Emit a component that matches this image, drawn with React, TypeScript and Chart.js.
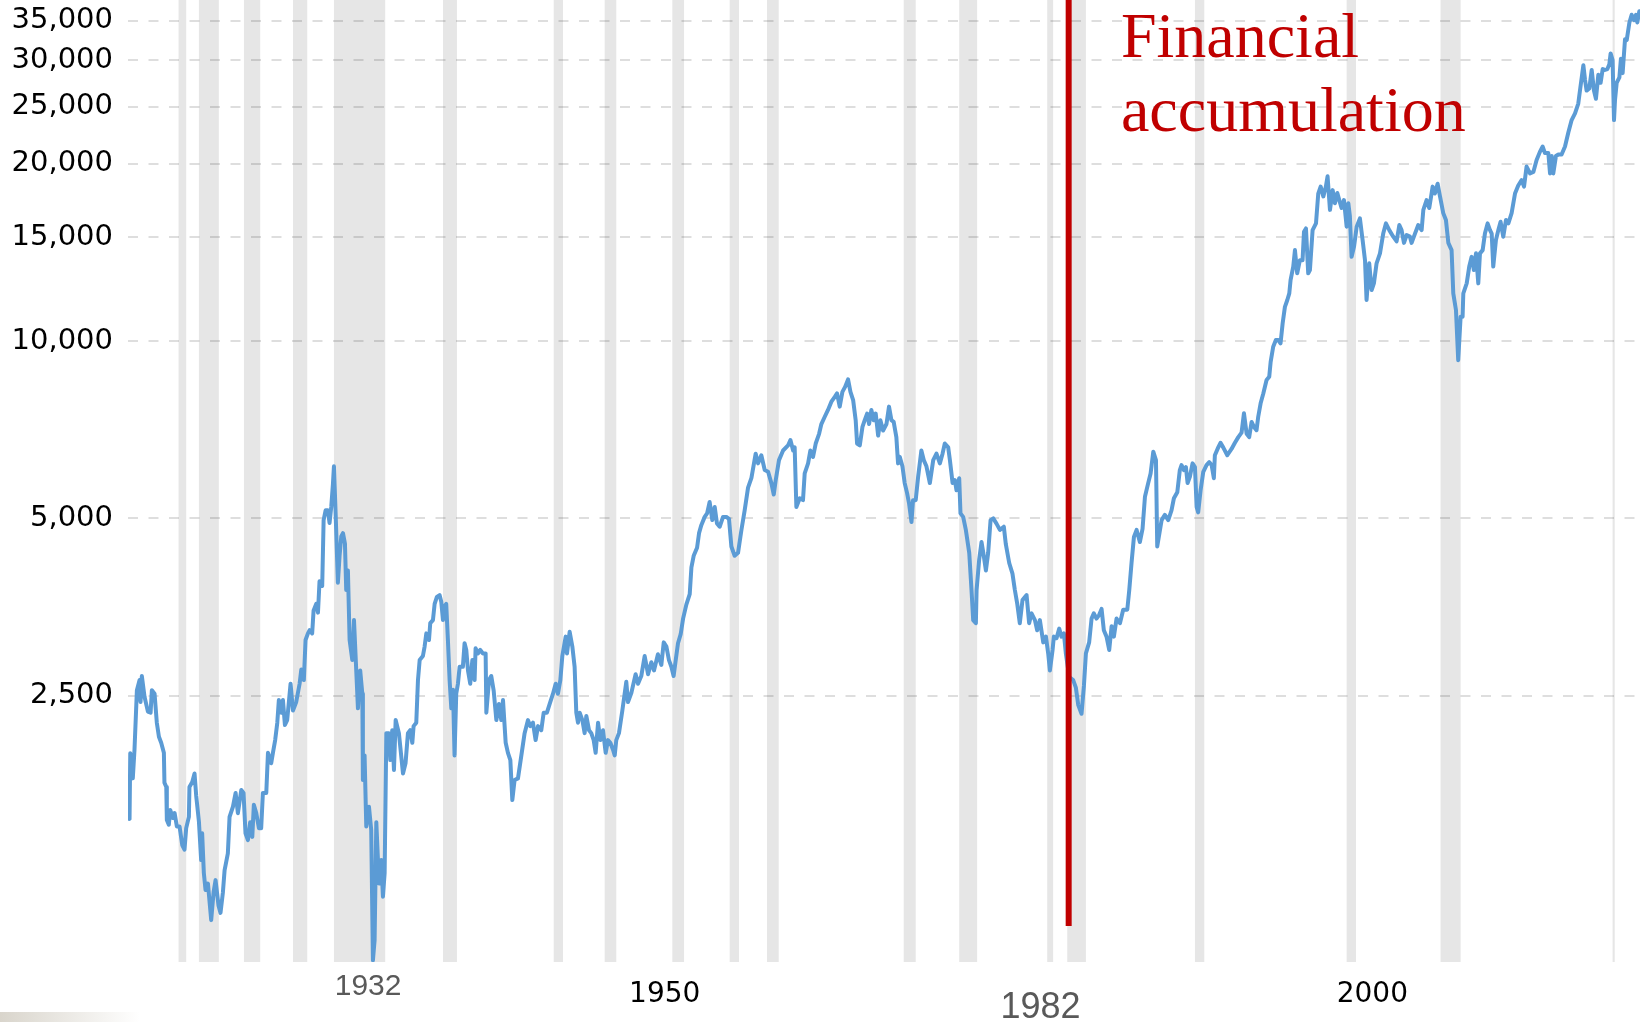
import React, { useEffect, useRef } from 'react';
import { Chart, registerables } from 'chart.js';

Chart.register(...registerables);

// ---- data (inflation-adjusted index level by decimal year) ----
const years = [
  1915.0, 1915.11, 1915.16, 1915.34, 1915.46, 1915.63, 1915.82, 1915.89, 1915.98, 1916.17,
  1916.41, 1916.6, 1916.69, 1916.88, 1917.04, 1917.19, 1917.35, 1917.54, 1917.58, 1917.71,
  1917.75, 1917.89, 1917.99, 1918.18, 1918.3, 1918.46, 1918.65, 1918.84, 1919.0, 1919.12,
  1919.31, 1919.35, 1919.55, 1919.71, 1919.83, 1920.02, 1920.07, 1920.18, 1920.25, 1920.37,
  1920.49, 1920.66, 1920.89, 1921.06, 1921.2, 1921.41, 1921.55, 1921.72, 1921.84, 1922.07,
  1922.19, 1922.43, 1922.62, 1922.78, 1923.02, 1923.18, 1923.32, 1923.49, 1923.65, 1923.8,
  1923.91, 1924.08, 1924.27, 1924.43, 1924.55, 1924.79, 1924.91, 1925.14, 1925.26, 1925.42,
  1925.57, 1925.68, 1925.85, 1925.97, 1926.11, 1926.27, 1926.51, 1926.68, 1926.91, 1927.15,
  1927.27, 1927.45, 1927.57, 1927.74, 1927.86, 1928.04, 1928.14, 1928.33, 1928.45, 1928.56,
  1928.75, 1928.85, 1928.99, 1929.15, 1929.27, 1929.39, 1929.51, 1929.58, 1929.7, 1929.86,
  1929.98, 1930.1, 1930.22, 1930.36, 1930.45, 1930.57, 1930.69, 1930.88, 1931.0, 1931.28,
  1931.44, 1931.59, 1931.63, 1931.75, 1931.87, 1932.06, 1932.22, 1932.34, 1932.46, 1932.58,
  1932.77, 1932.93, 1933.05, 1933.17, 1933.29, 1933.47, 1933.57, 1933.71, 1933.83, 1933.95,
  1934.18, 1934.47, 1934.65, 1934.82, 1934.98, 1935.13, 1935.22, 1935.41, 1935.53, 1935.65,
  1935.88, 1936.0, 1936.12, 1936.31, 1936.4, 1936.59, 1936.71, 1936.87, 1937.06, 1937.18,
  1937.3, 1937.42, 1937.53, 1937.65, 1937.77, 1937.89, 1938.01, 1938.12, 1938.24, 1938.36,
  1938.48, 1938.71, 1938.83, 1938.95, 1939.07, 1939.23, 1939.38, 1939.54, 1939.61, 1939.78,
  1939.94, 1940.13, 1940.32, 1940.37, 1940.56, 1940.72, 1940.89, 1941.08, 1941.26, 1941.43,
  1941.55, 1941.74, 1941.9, 1942.07, 1942.21, 1942.37, 1942.61, 1942.85, 1943.08, 1943.32,
  1943.48, 1943.67, 1943.86, 1944.03, 1944.26, 1944.43, 1944.66, 1944.85, 1945.09, 1945.28,
  1945.44, 1945.61, 1945.75, 1945.99, 1946.08, 1946.27, 1946.46, 1946.62, 1946.74, 1946.86,
  1946.98, 1947.17, 1947.33, 1947.45, 1947.64, 1947.8, 1947.97, 1948.11, 1948.28, 1948.44,
  1948.63, 1948.82, 1948.98, 1949.15, 1949.34, 1949.46, 1949.57, 1949.76, 1950.0, 1950.28,
  1950.4, 1950.64, 1950.94, 1951.11, 1951.34, 1951.58, 1951.82, 1952.05, 1952.24, 1952.52,
  1952.76, 1952.93, 1953.12, 1953.3, 1953.47, 1953.63, 1953.78, 1953.94, 1954.13, 1954.3,
  1954.53, 1954.77, 1954.89, 1955.05, 1955.29, 1955.43, 1955.59, 1955.83, 1956.0, 1956.18,
  1956.37, 1956.54, 1956.7, 1956.89, 1957.13, 1957.36, 1957.55, 1957.72, 1957.95, 1958.19,
  1958.43, 1958.66, 1958.9, 1959.14, 1959.44, 1959.61, 1959.84, 1960.08, 1960.32, 1960.55,
  1960.72, 1960.86, 1961.09, 1961.38, 1961.73, 1961.9, 1962.09, 1962.2, 1962.32, 1962.56,
  1962.79, 1962.91, 1963.15, 1963.31, 1963.5, 1963.69, 1963.93, 1964.09, 1964.33, 1964.56,
  1964.8, 1965.04, 1965.2, 1965.39, 1965.58, 1965.77, 1965.98, 1966.15, 1966.34, 1966.52,
  1966.62, 1966.81, 1967.0, 1967.16, 1967.33, 1967.47, 1967.63, 1967.8, 1967.94, 1968.11,
  1968.27, 1968.46, 1968.7, 1968.88, 1969.05, 1969.21, 1969.4, 1969.52, 1969.64, 1969.83,
  1969.99, 1970.16, 1970.3, 1970.47, 1970.58, 1970.77, 1970.94, 1971.17, 1971.34, 1971.53,
  1971.77, 1972.01, 1972.24, 1972.48, 1972.67, 1972.83, 1973.07, 1973.19, 1973.38, 1973.54,
  1973.66, 1973.85, 1973.94, 1974.13, 1974.32, 1974.56, 1974.72, 1974.84, 1975.03, 1975.08,
  1975.26, 1975.43, 1975.59, 1975.74, 1975.9, 1976.07, 1976.26, 1976.49, 1976.73, 1977.01,
  1977.15, 1977.39, 1977.62, 1977.79, 1977.96, 1978.14, 1978.33, 1978.62, 1978.8, 1978.97,
  1979.21, 1979.37, 1979.56, 1979.8, 1979.99, 1980.15, 1980.27, 1980.46, 1980.55, 1980.74,
  1980.93, 1981.09, 1981.26, 1981.4, 1981.64, 1981.92, 1982.11, 1982.28, 1982.51, 1982.68,
  1982.82, 1983.05, 1983.22, 1983.38, 1983.57, 1983.76, 1983.93, 1984.09, 1984.28, 1984.47,
  1984.64, 1984.8, 1984.99, 1985.23, 1985.46, 1985.75, 1985.89, 1986.05, 1986.22, 1986.41,
  1986.64, 1986.83, 1987.0, 1987.23, 1987.4, 1987.59, 1987.78, 1987.87, 1988.18, 1988.41,
  1988.65, 1988.88, 1989.05, 1989.29, 1989.47, 1989.59, 1989.76, 1989.9, 1990.02, 1990.18,
  1990.37, 1990.54, 1990.66, 1990.77, 1990.94, 1991.13, 1991.36, 1991.55, 1991.72, 1991.88,
  1991.95, 1992.19, 1992.35, 1992.54, 1992.83, 1993.13, 1993.37, 1993.61, 1993.84, 1994.01,
  1994.2, 1994.38, 1994.55, 1994.72, 1994.9, 1995.02, 1995.19, 1995.38, 1995.61, 1995.8,
  1995.9, 1996.08, 1996.27, 1996.44, 1996.6, 1996.75, 1996.91, 1997.08, 1997.22, 1997.31,
  1997.5, 1997.62, 1997.78, 1997.97, 1998.16, 1998.26, 1998.4, 1998.56, 1998.68, 1998.87,
  1999.11, 1999.27, 1999.44, 1999.63, 1999.81, 1999.93, 2000.1, 2000.29, 2000.45, 2000.62,
  2000.76, 2000.92, 2001.09, 2001.28, 2001.4, 2001.51, 2001.63, 2001.8, 2001.99, 2002.22,
  2002.41, 2002.58, 2002.69, 2002.88, 2003.05, 2003.21, 2003.4, 2003.64, 2003.87, 2004.06,
  2004.3, 2004.58, 2004.82, 2005.01, 2005.17, 2005.34, 2005.53, 2005.76, 2005.88, 2006.12,
  2006.35, 2006.59, 2006.71, 2006.94, 2007.13, 2007.37, 2007.53, 2007.72, 2007.89, 2008.12,
  2008.31, 2008.48, 2008.71, 2008.83, 2009.02, 2009.18, 2009.35, 2009.49, 2009.54, 2009.78,
  2009.96, 2010.13, 2010.29, 2010.44, 2010.6, 2010.72, 2010.91, 2011.07, 2011.26, 2011.43,
  2011.55, 2011.66, 2011.85, 2012.02, 2012.18, 2012.37, 2012.56, 2012.73, 2012.96, 2013.2,
  2013.43, 2013.67, 2013.84, 2014.02, 2014.26, 2014.5, 2014.73, 2014.97, 2015.16, 2015.32,
  2015.56, 2015.68, 2015.8, 2015.91, 2016.1, 2016.27, 2016.5, 2016.74, 2016.98, 2017.21,
  2017.45, 2017.68, 2017.8, 2018.04, 2018.16, 2018.27, 2018.46, 2018.63, 2018.79, 2018.93,
  2019.1, 2019.26, 2019.41, 2019.57, 2019.74, 2019.88, 2019.97, 2020.11, 2020.21, 2020.28,
  2020.4, 2020.59, 2020.7, 2020.82, 2020.99, 2021.11, 2021.3, 2021.46, 2021.63, 2021.77,
  2021.86, 2022.0,
];

const values = [
  1560, 1545, 1997, 1810, 2025, 2555, 2658, 2440, 2700, 2490,
  2350, 2340, 2555, 2520, 2250, 2130, 2080, 2000, 1780, 1750,
  1538, 1510, 1600, 1550, 1580, 1500, 1500, 1395, 1370, 1490,
  1557, 1750, 1785, 1845, 1690, 1530, 1460, 1315, 1460, 1250,
  1170, 1200, 1040, 1160, 1216, 1100, 1070, 1160, 1265, 1350,
  1557, 1620, 1710, 1580, 1730, 1710, 1460, 1422, 1525, 1440,
  1632, 1580, 1490, 1490, 1710, 1710, 2000, 1920, 2000, 2102,
  2250, 2458, 2340, 2458, 2230, 2273, 2620, 2360, 2440, 2620,
  2770, 2658, 3108, 3190, 3230, 3190, 3490, 3580, 3460, 3910,
  3840, 4967, 5160, 5160, 4910, 5230, 5720, 6130, 5100, 3890,
  4320, 4660, 4720, 4530, 3780, 4080, 3108, 2874, 3360, 2380,
  2760, 2520, 1798, 1980, 1500, 1620, 1480, 889, 962, 1525,
  1200, 1315, 1140, 1250, 2160, 2160, 1944, 2185, 1870, 2273,
  2160, 1845, 1920, 2160, 2185, 2080, 2220, 2250, 2658, 2874,
  2920, 3030, 3190, 3108, 3320, 3360, 3580, 3680, 3705, 3610,
  3360, 3550, 3580, 3108, 2658, 2380, 2560, 1980, 2520, 2620,
  2800, 2800, 3070, 2990, 2760, 2620, 2874, 2658, 3010, 2950,
  2990, 2950, 2950, 2340, 2658, 2700, 2550, 2273, 2420, 2273,
  2458, 2080, 2000, 1944, 1663, 1798, 1810, 1980, 2160, 2273,
  2220, 2250, 2102, 2220, 2185, 2340, 2340, 2420, 2520, 2620,
  2520, 2658, 2920, 3150, 2950, 3210, 3030, 2800, 2340, 2250,
  2340, 2273, 2160, 2310, 2185, 2160, 2102, 2000, 2250, 2102,
  2185, 2000, 2102, 2080, 2025, 1980, 2102, 2160, 2360, 2640,
  2440, 2530, 2720, 2620, 2700, 2920, 2720, 2850, 2760, 2940,
  2820, 3080, 3030, 2874, 2800, 2700, 2874, 3070, 3180, 3380,
  3570, 3720, 4130, 4320, 4460, 4720, 4870, 5030, 5100, 5330,
  4967, 5230, 4900, 4840, 5030, 5030, 4990, 4480, 4320, 4370,
  4780, 5160, 5640, 5860, 6440, 6200, 6400, 6040, 6000, 5740,
  5490, 5810, 6280, 6520, 6650, 6790, 6520, 6600, 5230, 5410,
  5370, 5960, 6200, 6520, 6360, 6700, 6960, 7230, 7440, 7640,
  7890, 8040, 8150, 7740, 8200, 8360, 8610, 8200, 7940, 7340,
  6700, 6650, 7150, 7340, 7530, 7230, 7640, 7340, 7530, 6910,
  7340, 7050, 7230, 7740, 7340, 7290, 6870, 6200, 6360, 6130,
  5740, 5520, 5300, 4930, 5370, 5370, 5880, 6520, 6280, 6130,
  5740, 6280, 6440, 6200, 6440, 6700, 6600, 6280, 5740, 5810,
  5580, 5850, 5100, 5030, 4780, 4370, 3780, 3360, 3320, 3780,
  4248, 4560, 4320, 4080, 4370, 4967, 5000, 4900, 4780, 4840,
  4520, 4200, 4030, 3780, 3580, 3320, 3633, 3705, 3320, 3450,
  3360, 3230, 3360, 3080, 3150, 2950, 2760, 2990, 3150, 3130,
  3250, 3150, 3190, 2950, 2690, 2658, 2580, 2410, 2330, 2600,
  2950, 3080, 3380, 3450, 3380, 3430, 3510, 3230, 3150, 2990,
  3280, 3150, 3380, 3320, 3500, 3500, 3780, 4200, 4650, 4780,
  4560, 4800, 5440, 5740, 5960, 6490, 6280, 4480, 4967, 5070,
  4967, 5160, 5410, 5540, 6040, 6160, 6040, 6110, 5740, 5880,
  6200, 6110, 5230, 5120, 5580, 6000, 6160, 6230, 6160, 5850,
  6400, 6600, 6720, 6600, 6400, 6560, 6720, 6870, 6990, 7540,
  6960, 6870, 7290, 7150, 7060, 7440, 7840, 8150, 8590, 8700,
  9220, 9780, 10040, 10040, 9910, 10720, 11430, 11740, 12050, 12690,
  13380, 14270, 13030, 13720, 13720, 15330, 15530, 13030, 13200, 15430,
  15840, 17800, 18290, 17600, 18290, 19040, 16700, 18040, 17140, 17840,
  17350, 16820, 17350, 15640, 17140, 16290, 13900, 14450, 15640, 16150,
  14840, 13720, 11740, 13550, 12210, 12530, 13550, 14090, 15220, 15840,
  15430, 15040, 14770, 15740, 15430, 14680, 15130, 15040, 14680, 15220,
  15740, 15430, 16700, 17350, 16820, 18290, 17800, 18500, 17600, 16490,
  16050, 14680, 14270, 12050, 11290, 9280, 11000, 11000, 12050, 12530,
  13380, 13900, 13200, 14090, 12530, 14090, 14270, 15220, 15840, 15430,
  15220, 13380, 14840, 15430, 15940, 15040, 16050, 15840, 16490, 17800,
  18370, 18760, 18290, 19780, 19260, 19370, 20290, 20970, 21390, 20850,
  20850, 19260, 20620, 19260, 20620, 20740, 20740, 21390, 22620, 23720,
  24350, 25300, 26620, 29390, 27740, 26620, 26840, 28860, 26620, 25780,
  28320, 27440, 28960, 28860, 28960, 29500, 30780, 29990, 23720, 25650,
  27440, 28020, 30160, 28500, 32550, 32430, 34740, 35800, 35070, 35800,
  34740, 36300,
];

// recession periods (shaded bands), decimal years
const recessionStarts = [
  1918.58, 1920.02, 1923.21, 1926.68, 1929.58, 1937.3, 1945.14, 1948.75, 1953.54, 1957.6,
  1960.24, 1969.92, 1973.85, 1980.08, 1981.5, 1990.54, 2001.28, 2007.93, 2020.11,
];
const recessionEnds = [
  1919.12, 1921.43, 1924.36, 1927.69, 1933.21, 1938.29, 1945.8, 1949.57, 1954.37, 1958.26,
  1961.07, 1970.77, 1975.12, 1980.5, 1982.82, 1991.2, 2001.94, 2009.35, 2020.26,
];

const yTickValues = [2500, 5000, 10000, 15000, 20000, 25000, 30000, 35000];
const xLabelTexts = ['1932', '1950', '1982', '2000'];
const xLabelYears = [1932.0, 1953.0, 1979.6, 2003.1];

const markerYear = 1981.6;
const markerLow = 1016;
const annotationLines = ['Financial', 'accumulation'];
const annotationYear = 1985.3;
const annotationBaselineValues = [30350, 22720];

const X_MIN = 1915.0;
const X_MAX = 2022.05;
const Y_MIN = 883;
const Y_MAX = 37930;

// styles for the bottom labels (not data)
const xLabelStyles = [
  { font: '30px "Liberation Sans", Arial, sans-serif', color: '#595959', dy: 25 },
  { font: '28px "DejaVu Sans", Verdana, sans-serif', color: '#000000', dy: 33 },
  { font: '36px "Liberation Sans", Arial, sans-serif', color: '#595959', dy: 46 },
  { font: '28px "DejaVu Sans", Verdana, sans-serif', color: '#000000', dy: 33 },
];

export default function App() {
  const canvasRef = useRef<HTMLCanvasElement>(null);

  useEffect(() => {
    const canvas = canvasRef.current;
    if (!canvas) return;

    const seriesPoints = years.map((x, i) => ({ x, y: values[i] }));
    const markerPoints = [
      { x: markerYear, y: markerLow },
      { x: markerYear, y: Y_MAX },
    ];

    const bandsPlugin = {
      id: 'recessionBands',
      beforeDraw(chart: any) {
        const { ctx, chartArea, scales } = chart;
        ctx.save();
        ctx.fillStyle = '#ffffff';
        ctx.fillRect(0, 0, chart.width, chart.height);
        ctx.fillStyle = '#e6e6e6';
        recessionStarts.forEach((s, i) => {
          const x1 = scales.x.getPixelForValue(s);
          const x2 = scales.x.getPixelForValue(recessionEnds[i]);
          ctx.fillRect(x1, chartArea.top, x2 - x1, chartArea.bottom - chartArea.top);
        });
        ctx.restore();
      },
    };

    const textPlugin = {
      id: 'textOverlay',
      afterDraw(chart: any) {
        const { ctx, chartArea, scales } = chart;
        ctx.save();
        ctx.textAlign = 'center';
        ctx.textBaseline = 'middle';
        xLabelTexts.forEach((t, i) => {
          const st = xLabelStyles[i];
          ctx.font = st.font;
          ctx.fillStyle = st.color;
          ctx.fillText(t, scales.x.getPixelForValue(xLabelYears[i]), chartArea.bottom + st.dy);
        });
        ctx.textAlign = 'left';
        ctx.textBaseline = 'alphabetic';
        ctx.font = '64px "Liberation Serif", "Times New Roman", serif';
        ctx.fillStyle = '#c00000';
        const ax = scales.x.getPixelForValue(annotationYear);
        annotationLines.forEach((line, i) => {
          ctx.fillText(line, ax, scales.y.getPixelForValue(annotationBaselineValues[i]));
        });
        ctx.restore();
      },
    };

    const chart = new Chart(canvas, {
      type: 'line',
      data: {
        datasets: [
          {
            label: 'marker',
            data: markerPoints,
            borderColor: '#c00000',
            borderWidth: 6,
            pointRadius: 0,
            borderCapStyle: 'butt',
          },
          {
            label: 'index',
            data: seriesPoints,
            borderColor: '#5b9bd5',
            borderWidth: 4,
            pointRadius: 0,
            tension: 0,
            borderCapStyle: 'round',
            borderJoinStyle: 'round',
          },
        ],
      },
      options: {
        responsive: false,
        animation: false,
        devicePixelRatio: 1,
        layout: {
          autoPadding: false,
          padding: { left: 0, right: 10, top: 0, bottom: 60 },
        },
        plugins: {
          legend: { display: false },
          tooltip: { enabled: false },
        },
        scales: {
          x: {
            type: 'linear',
            min: X_MIN,
            max: X_MAX,
            display: false,
          },
          y: {
            type: 'logarithmic',
            position: 'left',
            min: Y_MIN,
            max: Y_MAX,
            afterBuildTicks: (scale: any) => {
              scale.ticks = yTickValues.map((v) => ({ value: v }));
            },
            afterFit: (scale: any) => {
              scale.width = 128;
              scale.paddingTop = 0;
              scale.paddingBottom = 0;
            },
            ticks: {
              autoSkip: false,
              padding: 15,
              color: '#000000',
              font: { family: '"DejaVu Sans", Verdana, sans-serif', size: 29 },
              callback: (v: any) => Number(v).toLocaleString('en-US'),
            },
            grid: {
              color: 'rgba(0,0,0,0.13)',
              lineWidth: 2,
              drawTicks: false,
            },
            border: { display: false, dash: [10, 10.5] },
          },
        },
      } as any,
      plugins: [bandsPlugin, textPlugin],
    });

    return () => chart.destroy();
  }, []);

  return (
    <div style={{ position: 'fixed', left: 0, top: 0, width: 1650, height: 1022, background: '#fff' }}>
      <canvas ref={canvasRef} width={1650} height={1022} style={{ display: 'block' }} />
      <div
        style={{
          position: 'absolute',
          left: 0,
          bottom: 0,
          width: 140,
          height: 10,
          background: 'linear-gradient(to right, #d9d5cc, #ffffff)',
        }}
      />
    </div>
  );
}
